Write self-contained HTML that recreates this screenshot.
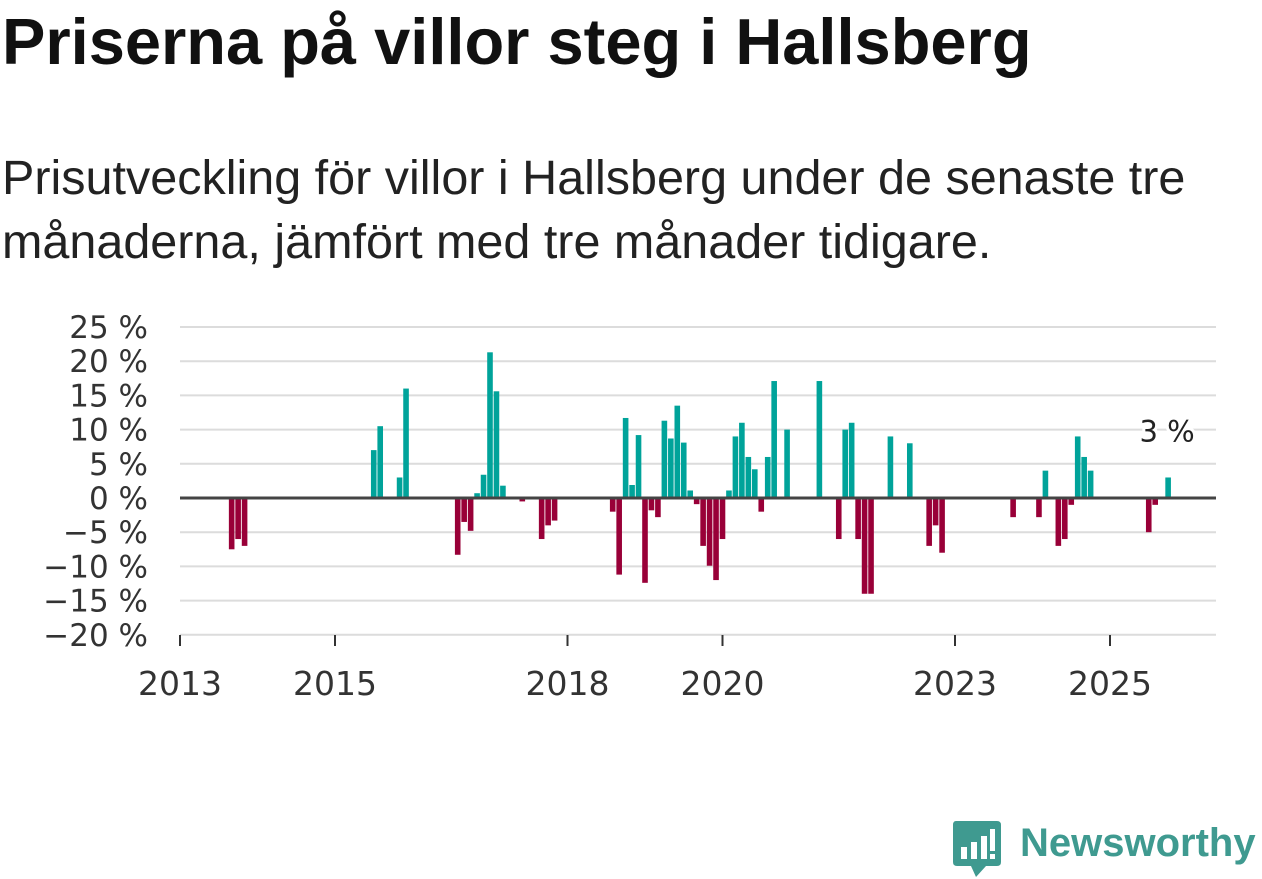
<!DOCTYPE html>
<html><head><meta charset="utf-8">
<style>
body{margin:0;background:#fff;width:1262px;height:879px;overflow:hidden;font-family:"Liberation Sans","DejaVu Sans",sans-serif;}
#title{position:absolute;left:2px;top:4px;font-size:65px;font-weight:bold;color:#111;margin:0;white-space:nowrap}
#sub{position:absolute;left:2px;top:146px;font-size:48.5px;color:#222;line-height:64px;margin:0;width:1230px}
svg{position:absolute;left:0;top:0}
</style></head><body>
<h1 id="title">Priserna på villor steg i Hallsberg</h1>
<p id="sub">Prisutveckling för villor i Hallsberg under de senaste tre månaderna, jämfört med tre månader tidigare.</p>
<svg id="chart" width="1262" height="879"></svg>
<script>
const months=["2013-09","2013-10","2013-11","2015-07","2015-08","2015-11","2015-12","2016-08","2016-09","2016-10","2016-11","2016-12","2017-01","2017-02","2017-03","2017-06","2017-09","2017-10","2017-11","2018-08","2018-09","2018-10","2018-11","2018-12","2019-01","2019-02","2019-03","2019-04","2019-05","2019-06","2019-07","2019-08","2019-09","2019-10","2019-11","2019-12","2020-01","2020-02","2020-03","2020-04","2020-05","2020-06","2020-07","2020-08","2020-09","2020-11","2021-04","2021-07","2021-08","2021-09","2021-10","2021-11","2021-12","2022-03","2022-06","2022-09","2022-10","2022-11","2023-10","2024-02","2024-03","2024-05","2024-06","2024-07","2024-08","2024-09","2024-10","2025-07","2025-08","2025-10"];
const values=[-7.5,-6,-7,7,10.5,3,16,-8.3,-3.5,-4.8,0.7,3.4,21.3,15.6,1.8,-0.5,-6,-4,-3.3,-2,-11.2,11.7,1.9,9.2,-12.4,-1.8,-2.8,11.3,8.7,13.5,8.1,1.1,-0.9,-7,-9.9,-12,-6,1.1,9,11,6,4.2,-2,6,17.1,10,17.1,-6,10,11,-6,-14,-14,9,8,-7,-4,-8,-2.8,-2.8,4,-7,-6,-1,9,6,4,-5,-1,3];
const yTicks=[25,20,15,10,5,0,-5,-10,-15,-20];
const xTicks=[2013,2015,2018,2020,2023,2025];
const NS="http://www.w3.org/2000/svg";
const svg=document.getElementById('chart');
const X0=180,X1=1216,Y0=498,PX=6.84,YEARPX=77.5;
function xs(y){return X0+(y-2013)*YEARPX;}
function ys(v){return Y0-v*PX;}
function mk(t,a){const e=document.createElementNS(NS,t);for(const k in a)e.setAttribute(k,a[k]);svg.appendChild(e);return e;}
yTicks.forEach(t=>{
  if(t!==0){const l=mk('line',{x1:X0,x2:X1,y1:ys(t),y2:ys(t),stroke:'#dcdcdc','stroke-width':2});
  
  }
  const tx=mk('text',{x:148,y:ys(t)+11,'text-anchor':'end','font-size':31,fill:'#333','font-family':'DejaVu Sans, sans-serif'});
  tx.textContent=(t<0?'\u2212'+(-t):t)+' %';
  
  
});
const ax=mk('line',{x1:X0,x2:X1,y1:635,y2:635,stroke:'#dcdcdc','stroke-width':1});


xTicks.forEach(t=>{
  const l=mk('line',{x1:xs(t),x2:xs(t),y1:635,y2:646,stroke:'#333','stroke-width':2});
  
  
  const tx=mk('text',{x:xs(t),y:695,'text-anchor':'middle','font-size':33,fill:'#333','font-family':'DejaVu Sans, sans-serif'});
  tx.textContent=t;
  
  
});
months.forEach((m,i)=>{
  const [yy,mm]=m.split('-').map(Number);
  const cx=xs(yy+(mm-1)/12);
  const v=values[i];
  const r=mk('rect',{x:cx-2.8,width:5.6,y:v>=0?ys(v):Y0,height:Math.abs(v)*PX,fill:v>=0?'#00a39a':'#990038'});
  
  
});
const zl=mk('line',{x1:X0,x2:X1,y1:Y0,y2:Y0,stroke:'#444','stroke-width':3});


const li=values.length-1,[ly,lm]=months[li].split('-').map(Number);
const lab=mk('text',{x:xs(ly+(lm-1)/12)-1,y:ys(values[li])-36,'text-anchor':'middle','font-size':29,fill:'#222',stroke:'#fff','stroke-width':6,'paint-order':'stroke','font-family':'DejaVu Sans, sans-serif'});
lab.textContent=Math.round(values[li])+' %';


</script>
<div style="position:absolute;left:952px;top:820px;width:310px;height:59px">
<svg width="50" height="59" viewBox="0 0 50 59" style="position:absolute;left:0;top:0">
<path d="M4 1H45Q49 1 49 5V42Q49 46 45 46H34L24 57L19 46H5Q1 46 1 42V5Q1 1 4 1Z" fill="#3f9a90"/>
<rect x="9" y="27" width="6" height="12" fill="#fff"/><rect x="19" y="22" width="6" height="17" fill="#fff"/><rect x="29" y="16" width="6" height="23" fill="#fff"/><rect x="38" y="9" width="5" height="22" fill="#fff"/><rect x="38" y="34" width="5" height="5" fill="#fff"/>
</svg>
<span style="position:absolute;left:68px;top:1px;font-size:40px;font-weight:bold;color:#3f9a90">Newsworthy</span>
</div>
</body></html>
